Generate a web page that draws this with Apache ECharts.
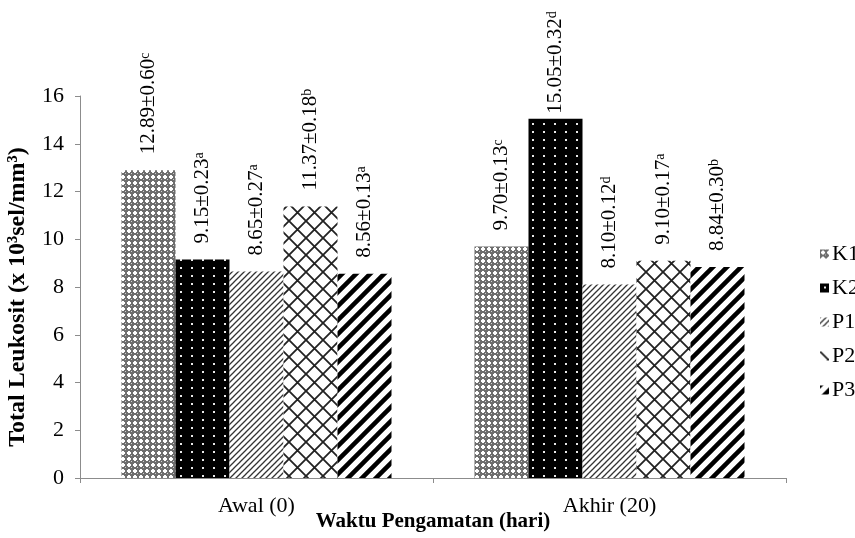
<!DOCTYPE html>
<html>
<head>
<meta charset="utf-8">
<script src="https://cdn.jsdelivr.net/npm/echarts@6/dist/echarts.min.js"></script>
<style>
  html, body { margin: 0; padding: 0; background: #fff; }
  #chart { width: 855px; height: 538px; }
</style>
</head>
<body>
<div id="chart"></div>
<script>
// data
var categories = ['Awal (0)', 'Akhir (20)'];
var seriesNames = ['K1', 'K2', 'P1', 'P2', 'P3'];
var k1 = [12.89, 9.70];
var k2 = [9.15, 15.05];
var p1 = [8.65, 8.10];
var p2 = [11.37, 9.10];
var p3 = [8.56, 8.84];
var k1Sd = [0.60, 0.13];
var k2Sd = [0.23, 0.32];
var p1Sd = [0.27, 0.12];
var p2Sd = [0.18, 0.17];
var p3Sd = [0.13, 0.30];
var k1Sig = ['c', 'c'];
var k2Sig = ['a', 'd'];
var p1Sig = ['a', 'd'];
var p2Sig = ['b', 'a'];
var p3Sig = ['a', 'b'];
var yTicks = [0, 2, 4, 6, 8, 10, 12, 14, 16];

var means = [k1, k2, p1, p2, p3];
var sds = [k1Sd, k2Sd, p1Sd, p2Sd, p3Sd];
var sigs = [k1Sig, k2Sig, p1Sig, p2Sig, p3Sig];

// pola isi batang (canvas pattern)
function tile(w, h, draw) {
  var c = document.createElement('canvas');
  c.width = w; c.height = h;
  var ctx = c.getContext('2d');
  draw(ctx, w, h);
  return { image: c, repeat: 'repeat' };
}

var patterns = [
  // K1: abu-abu dengan titik putih rapat
  tile(6, 6, function (ctx) {
    ctx.fillStyle = '#6e6e6e';
    ctx.fillRect(0, 0, 6, 6);
    ctx.fillStyle = '#ffffff';
    ctx.fillRect(1, 2, 4, 2);
    ctx.fillRect(2, 1, 2, 4);
    ctx.fillStyle = '#d0d0d0';
    ctx.fillRect(5, 5, 1, 1);
  }),
  // K2: hitam dengan titik putih
  tile(11, 8, function (ctx) {
    ctx.fillStyle = '#000';
    ctx.fillRect(0, 0, 11, 8);
    ctx.fillStyle = '#e8e8e8';
    ctx.fillRect(4, 3, 2, 2);
  }),
  // P1: garis miring tipis
  tile(6, 6, function (ctx) {
    ctx.fillStyle = '#fff';
    ctx.fillRect(0, 0, 6, 6);
    ctx.strokeStyle = '#333';
    ctx.lineWidth = 1.3;
    ctx.beginPath();
    ctx.moveTo(-1, 7); ctx.lineTo(7, -1);
    ctx.moveTo(-4, 4); ctx.lineTo(4, -4);
    ctx.moveTo(2, 10); ctx.lineTo(10, 2);
    ctx.stroke();
  }),
  // P2: arsiran silang besar
  tile(17, 17, function (ctx) {
    ctx.fillStyle = '#fff';
    ctx.fillRect(0, 0, 17, 17);
    ctx.strokeStyle = '#222';
    ctx.lineWidth = 1.8;
    ctx.beginPath();
    ctx.moveTo(0, 0); ctx.lineTo(17, 17);
    ctx.moveTo(17, 0); ctx.lineTo(0, 17);
    ctx.stroke();
  }),
  // P3: garis miring tebal
  tile(14, 14, function (ctx) {
    ctx.fillStyle = '#fff';
    ctx.fillRect(0, 0, 14, 14);
    ctx.strokeStyle = '#000';
    ctx.lineWidth = 4.5;
    ctx.beginPath();
    ctx.moveTo(-2, 16); ctx.lineTo(16, -2);
    ctx.moveTo(-9, 9); ctx.lineTo(9, -9);
    ctx.moveTo(5, 23); ctx.lineTo(23, 5);
    ctx.stroke();
  })
];

var serif = 'Liberation Serif';

var series = seriesNames.map(function (name, i) {
  return {
    name: name,
    type: 'bar',
    barWidth: 54,
    barGap: '0%',
    // label yang terlalu tinggi digeser turun supaya tidak terpotong
    data: means[i].map(function (v) {
      return v > 14.5 ? { value: v, label: { distance: 5 } } : v;
    }),
    itemStyle: { color: patterns[i] },
    label: {
      show: true,
      position: 'top',
      rotate: 90,
      align: 'left',
      verticalAlign: 'middle',
      distance: 16,
      fontFamily: serif,
      fontSize: 21,
      color: '#000',
      formatter: function (p) {
        return p.value.toFixed(2) + '±' + sds[i][p.dataIndex].toFixed(2) +
          '{sup|' + sigs[i][p.dataIndex] + '}';
      },
      rich: {
        sup: { fontFamily: serif, fontSize: 14, color: '#000', verticalAlign: 'top', lineHeight: 21 }
      }
    }
  };
});

var option = {
  animation: false,
  backgroundColor: '#fff',
  grid: { left: 80, right: 69, top: 96, bottom: 60, outerBoundsMode: 'none' },
  legend: {
    orient: 'vertical',
    left: 815,
    top: 238,
    icon: 'rect',
    itemWidth: 9,
    itemHeight: 9,
    itemGap: 12,
    data: seriesNames,
    textStyle: { fontFamily: serif, fontSize: 22, color: '#000', padding: [0, 0, 0, -2] }
  },
  xAxis: {
    type: 'category',
    data: categories,
    name: 'Waktu Pengamatan (hari)',
    nameLocation: 'middle',
    nameGap: 33,
    nameMoveOverlap: false,
    nameTextStyle: { fontFamily: serif, fontSize: 21, fontWeight: 'bold', color: '#000' },
    axisLine: { lineStyle: { color: '#8c8c8c', width: 1 } },
    axisTick: { show: true, length: 5, lineStyle: { color: '#8c8c8c' } },
    axisLabel: { fontFamily: serif, fontSize: 22, color: '#000', margin: 17 }
  },
  yAxis: {
    type: 'value',
    min: 0,
    max: 16,
    interval: 2,
    name: 'Total Leukosit (x 10³sel/mm³)',
    nameLocation: 'middle',
    nameGap: 50,
    nameMoveOverlap: false,
    nameTextStyle: {
      fontFamily: serif, fontSize: 24, fontWeight: 'bold', color: '#000',
      padding: [0, 20, 0, 0]
    },
    axisLine: { show: true, lineStyle: { color: '#8c8c8c', width: 1 } },
    axisTick: { show: true, length: 5, lineStyle: { color: '#8c8c8c' } },
    splitLine: { show: false },
    axisLabel: {
      fontFamily: serif, fontSize: 22, color: '#000', margin: 16,
      formatter: function (v) { return yTicks.indexOf(v) >= 0 ? String(v) : ''; }
    }
  },
  series: series
};

var myChart = echarts.init(document.getElementById('chart'));
myChart.setOption(option);
</script>
</body>
</html>
